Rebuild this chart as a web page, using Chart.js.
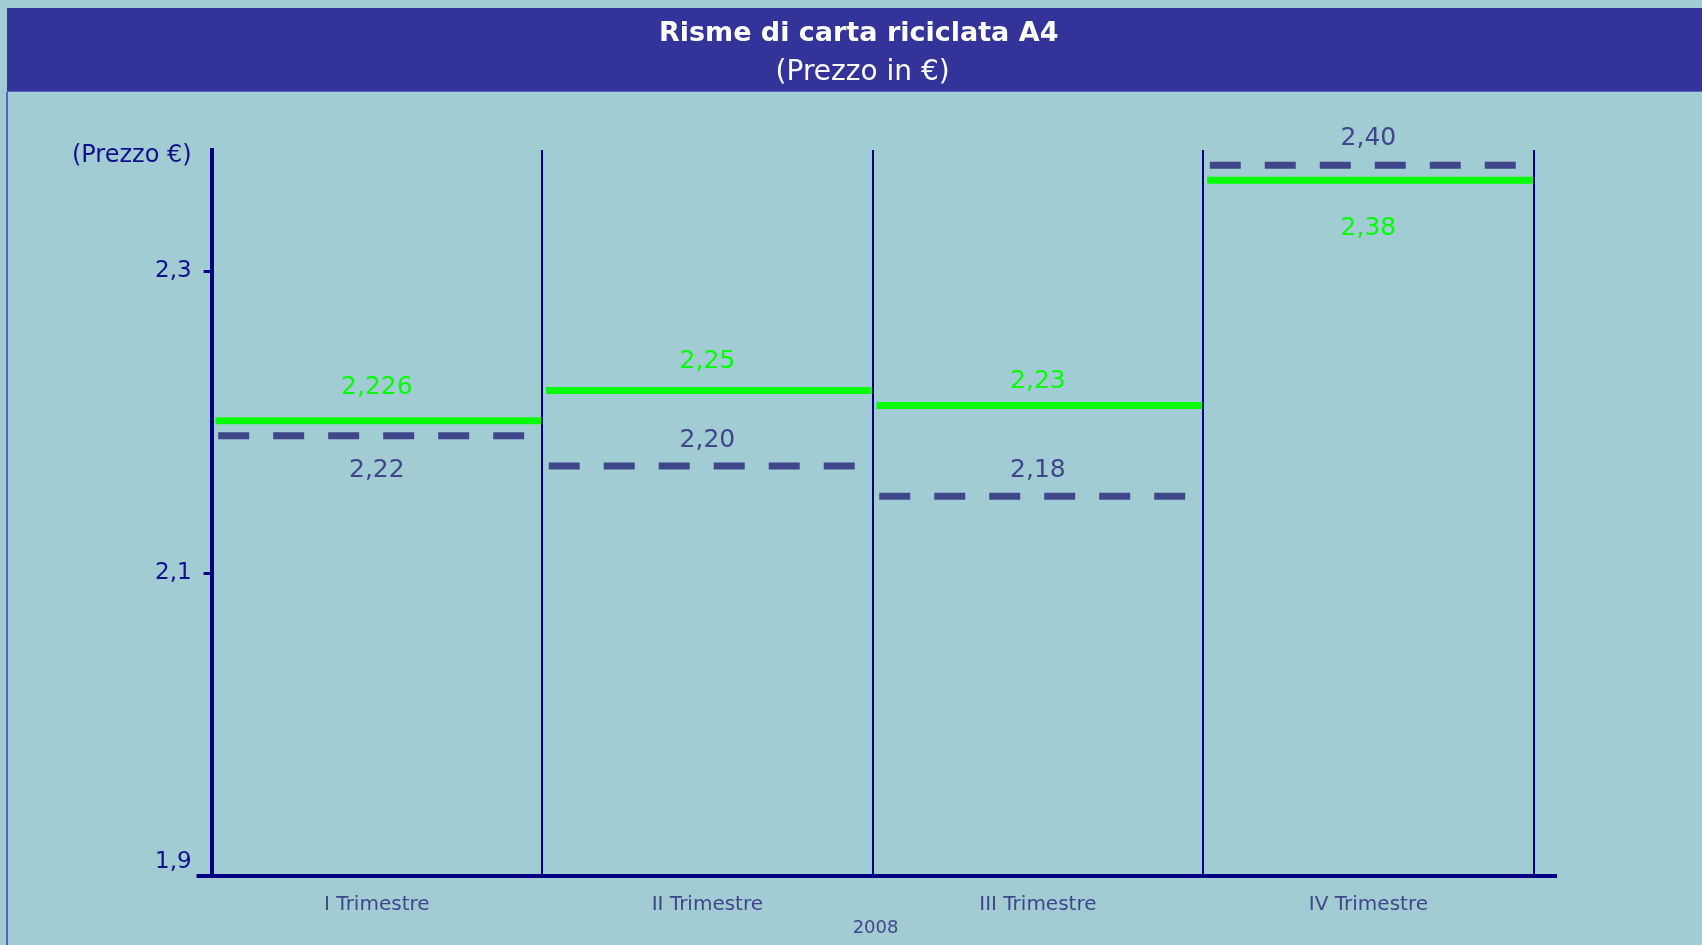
<!DOCTYPE html>
<html>
<head>
<meta charset="utf-8">
<script src="https://cdn.jsdelivr.net/npm/chart.js@4.4.0/dist/chart.umd.min.js"></script>
<style>
html, body { margin: 0; padding: 0; background: #A2CCD3; }
</style>
</head>
<body>
<canvas id="chart" width="1702" height="945"></canvas>
<script>
// Risme di carta riciclata A4 - prezzo per trimestre 2008
const quarters = ['I Trimestre', 'II Trimestre', 'III Trimestre', 'IV Trimestre'];
const yearLabel = '2008';
// line heights as read against the drawn axis
const greenValues = [2.201, 2.221, 2.211, 2.360];
const dashValues = [2.191, 2.171, 2.151, 2.370];
// numbers printed next to the lines
const greenLabels = ['2,226', '2,25', '2,23', '2,38'];
const dashLabels = ['2,22', '2,20', '2,18', '2,40'];
const yTicks = [1.9, 2.1, 2.3];

const FONT = 'DejaVu Sans';
const NAVY = '#000080';
const GREEN = '#00FF00';
const SLATE = '#40468A';

// label offsets in px from the line (negative = above)
const greenOffsets = [-33, -29, -24, 48];
const dashOffsets = [35, -26, -26, -27];

function segments(values, from, to) {
    const pts = [];
    values.forEach((v, i) => {
        pts.push({x: i + from, y: v}, {x: i + to, y: v});
        if (i < values.length - 1) pts.push({x: i + 1, y: null});
    });
    return pts;
}

const background = {
    id: 'background',
    beforeDraw(chart) {
        const c = chart.ctx;
        c.save();
        c.fillStyle = '#A2CCD3';
        c.fillRect(0, 0, chart.width, chart.height);
        c.fillStyle = '#333399';
        c.fillRect(7, 8, chart.width - 7, 84);
        c.fillStyle = '#5A62BE';
        c.fillRect(6, 92, 2, chart.height - 92);
        c.fillRect(7, 91, chart.width - 7, 1);
        c.restore();
    },
    afterDraw(chart) {
        const c = chart.ctx;
        const area = chart.chartArea;
        const x = chart.scales.x;
        const y = chart.scales.y;
        c.save();
        // x axis line runs a bit past the y axis on the left
        c.strokeStyle = NAVY;
        c.lineWidth = 4;
        c.beginPath();
        c.moveTo(area.left - 15, y.getPixelForValue(yTicks[0]));
        c.lineTo(area.left, y.getPixelForValue(yTicks[0]));
        c.stroke();
        // axis caption
        c.fillStyle = '#10108A';
        c.font = '24px "' + FONT + '"';
        c.textAlign = 'right';
        c.textBaseline = 'middle';
        c.fillText('(Prezzo €)', area.left - 20, area.top + 6);
        // year under the quarters
        c.fillStyle = SLATE;
        c.font = '18px "' + FONT + '"';
        c.textAlign = 'center';
        c.fillText(yearLabel, (x.left + x.right) / 2 - 8, x.bottom - 17);
        c.restore();
    }
};

const valueLabels = {
    id: 'valueLabels',
    afterDatasetsDraw(chart) {
        const c = chart.ctx;
        const x = chart.scales.x;
        const y = chart.scales.y;
        c.save();
        c.font = '25px "' + FONT + '"';
        c.textAlign = 'center';
        c.textBaseline = 'middle';
        const sets = [
            {values: greenValues, labels: greenLabels, offsets: greenOffsets, color: GREEN},
            {values: dashValues, labels: dashLabels, offsets: dashOffsets, color: SLATE}
        ];
        sets.forEach(s => {
            c.fillStyle = s.color;
            s.values.forEach((v, i) => {
                c.fillText(s.labels[i], x.getPixelForValue(i + 0.5), y.getPixelForValue(v) + s.offsets[i]);
            });
        });
        c.restore();
    }
};

const ctx = document.getElementById('chart').getContext('2d');
const myChart = new Chart(ctx, {
    type: 'line',
    data: {
        datasets: [{
            label: 'dashed',
            data: segments(dashValues, 0.02, 0.96),
            borderColor: SLATE,
            borderWidth: 7,
            borderDash: [31, 24],
            borderCapStyle: 'butt',
            pointRadius: 0,
            spanGaps: false,
            tension: 0
        }, {
            label: 'green',
            data: segments(greenValues, 0.012, 0.997),
            borderColor: GREEN,
            borderWidth: 7,
            borderCapStyle: 'butt',
            pointRadius: 0,
            spanGaps: false,
            tension: 0
        }]
    },
    options: {
        responsive: false,
        animation: false,
        layout: {padding: {top: 18, left: 143, right: 146.5, bottom: 0}},
        plugins: {
            legend: {display: false},
            tooltip: {enabled: false},
            title: {
                display: true,
                // leading spaces nudge the centred title to the right, as in the original
                text: '  Risme di carta riciclata A4',
                color: '#FFFFFF',
                font: {family: FONT, size: 27, weight: 'bold', lineHeight: 1.2},
                padding: {top: 0, bottom: 5.5}
            },
            subtitle: {
                display: true,
                text: '   (Prezzo in €)',
                color: '#FFFFFF',
                font: {family: FONT, size: 28, lineHeight: 1.2},
                padding: {top: 0, bottom: 60.5}
            }
        },
        scales: {
            x: {
                type: 'linear',
                min: 0,
                max: 4.066,
                afterBuildTicks: scale => {
                    scale.ticks = [0.5, 1, 1.5, 2, 2.5, 3, 3.5, 4].map(v => ({value: v}));
                },
                afterFit: scale => { scale.height = 69; },
                ticks: {
                    autoSkip: false,
                    maxRotation: 0,
                    padding: 17,
                    color: SLATE,
                    font: {family: FONT, size: 20},
                    callback: v => Number.isInteger(v) ? '' : quarters[Math.floor(v)]
                },
                grid: {
                    drawTicks: false,
                    lineWidth: 2,
                    color: c => (c.tick && Number.isInteger(c.tick.value)) ? NAVY : 'rgba(0,0,0,0)'
                },
                border: {display: true, color: NAVY, width: 4}
            },
            y: {
                min: 1.9,
                max: 2.38,
                afterBuildTicks: scale => {
                    scale.ticks = yTicks.map(v => ({value: v}));
                },
                ticks: {
                    padding: 12,
                    color: '#10108A',
                    font: {family: FONT, size: 23},
                    // the bottom label sits just above the base line
                    callback: v => {
                        const txt = String(v).replace('.', ',');
                        return v === yTicks[0] ? [txt, ''] : txt;
                    }
                },
                grid: {
                    drawOnChartArea: false,
                    tickLength: 8,
                    tickWidth: 3,
                    tickColor: NAVY
                },
                border: {display: true, color: NAVY, width: 4}
            }
        }
    },
    plugins: [background, valueLabels]
});
</script>
</body>
</html>
